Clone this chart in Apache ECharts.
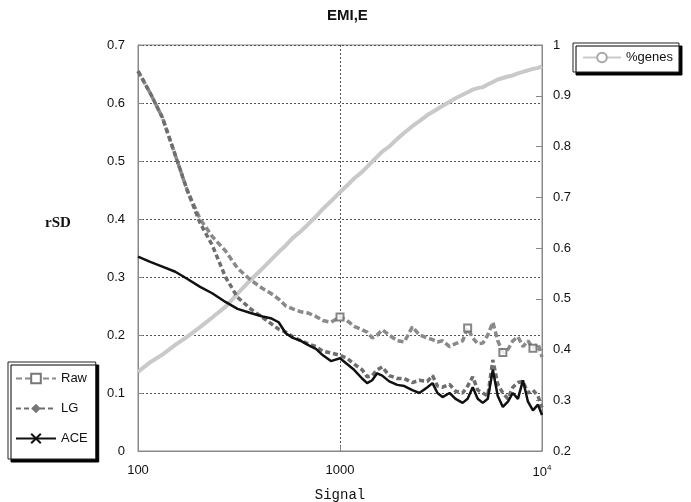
<!DOCTYPE html>
<html>
<head>
<meta charset="utf-8">
<script src="https://cdn.jsdelivr.net/npm/echarts@6/dist/echarts.min.js"></script>
<style>
html,body{margin:0;padding:0;background:#fff;}
#chart{width:691px;height:502px;}
</style>
</head>
<body>
<div id="chart"></div>
<script>
// Shared signal grid (x values)
const signal = [100,115,132,153,175,203,233,271,311,361,414,454,497,539,584,640,693,760,823,902,
  1000,1083,1174,1287,1362,1443,1528,1618,1753,1921,2082,2281,2472,2709,2870,3038,3218,3486,3734,4046,
  4285,4540,4805,5090,5390,5710,6040,6400,6780,7170,7600,8050,8520,9020,9550,10000];

const rawValues = [0.655,0.617,0.575,0.51,0.45,0.40,0.37,0.345,0.315,0.295,0.28,0.272,0.262,0.25,0.245,0.24,0.238,0.232,0.225,0.222,
  0.231,0.225,0.215,0.209,0.205,0.195,0.2,0.209,0.2,0.19,0.188,0.214,0.2,0.195,0.192,0.188,0.19,0.18,0.185,0.19,
  0.212,0.195,0.185,0.186,0.2,0.222,0.19,0.17,0.175,0.19,0.197,0.18,0.19,0.177,0.185,0.162];

const lgValues = [0.655,0.617,0.575,0.51,0.45,0.393,0.355,0.30,0.265,0.245,0.23,0.22,0.21,0.205,0.197,0.19,0.185,0.18,0.172,0.169,
  0.165,0.16,0.15,0.14,0.128,0.13,0.14,0.145,0.13,0.125,0.125,0.118,0.122,0.12,0.13,0.112,0.11,0.115,0.103,0.1,
  0.112,0.128,0.105,0.1,0.095,0.157,0.115,0.1,0.09,0.11,0.118,0.12,0.1,0.105,0.095,0.075];

const aceValues = [0.335,0.326,0.318,0.309,0.297,0.283,0.272,0.257,0.245,0.238,0.232,0.229,0.222,0.203,0.195,0.19,0.183,0.176,0.165,0.155,
  0.16,0.15,0.14,0.125,0.117,0.122,0.134,0.13,0.12,0.114,0.112,0.105,0.1,0.11,0.117,0.1,0.093,0.1,0.09,0.083,
  0.09,0.11,0.09,0.083,0.09,0.14,0.095,0.076,0.085,0.1,0.09,0.122,0.085,0.07,0.08,0.062];

const genesValues = [0.356,0.375,0.39,0.409,0.425,0.444,0.463,0.484,0.51,0.537,0.56,0.576,0.592,0.605,0.62,0.633,0.646,0.662,0.677,0.692,
  0.71,0.723,0.737,0.75,0.76,0.77,0.78,0.79,0.8,0.815,0.827,0.84,0.85,0.862,0.868,0.874,0.88,0.888,0.895,0.902,
  0.907,0.912,0.915,0.917,0.922,0.927,0.932,0.935,0.938,0.94,0.944,0.947,0.95,0.953,0.955,0.958];

const leftTicks = {min:0, max:0.7, interval:0.1};
const rightTicks = {min:0.2, max:1, interval:0.1};
const rawMarkerIdx = [20, 40, 47, 53];

function pairs(vals){ return signal.map((s,i)=>[s, vals[i]]); }

const chart = echarts.init(document.getElementById('chart'), null, {renderer:'canvas'});
const font = 'Arial, "Liberation Sans", sans-serif';

chart.setOption({
  backgroundColor:'#fff',
  animation:false,
  graphic:[{
    type:'text', left:327, top:8,
    style:{text:'EMI,E', fontFamily:font, fontSize:15, fontWeight:'bold', fill:'#111'}
  },{
    type:'text', left:45, top:216,
    style:{text:'rSD', fontFamily:'"Liberation Serif", "DejaVu Serif", serif', fontSize:15, fontWeight:'bold', fill:'#111'}
  }],
  grid:{left:138, right:149, top:45, bottom:51, show:true, borderColor:'#888', borderWidth:1,
        backgroundColor:'transparent', containLabel:false, outerBoundsMode:'none'},
  legend:[{
    data:['Raw','LG','ACE'], orient:'vertical', left:8, top:362,
    padding:[10,8,14,7], itemWidth:40, itemHeight:12, itemGap:17,
    backgroundColor:'#fff', borderColor:'#222', borderWidth:1,
    shadowColor:'#000', shadowBlur:0, shadowOffsetX:3, shadowOffsetY:3,
    textStyle:{fontFamily:font, fontSize:13, color:'#111'}
  },{
    data:['%genes'], left:573, top:43,
    padding:[8,6,8,9], itemWidth:38, itemHeight:12,
    backgroundColor:'#fff', borderColor:'#222', borderWidth:1,
    shadowColor:'#000', shadowBlur:0, shadowOffsetX:3, shadowOffsetY:3,
    textStyle:{fontFamily:font, fontSize:13, color:'#111'}
  }],
  xAxis:{
    type:'log', logBase:10, min:100, max:10000,
    name:'Signal', nameLocation:'middle', nameGap:37,
    nameTextStyle:{fontFamily:'"Liberation Mono", "DejaVu Sans Mono", monospace', fontSize:14, color:'#111'},
    axisLine:{lineStyle:{color:'#888'}},
    axisTick:{inside:true, length:5, lineStyle:{color:'#888'}},
    axisLabel:{
      margin:13, fontFamily:font, fontSize:13, color:'#111',
      formatter:function(v){ return v >= 10000 ? '10{sup|4}' : String(Math.round(v)); },
      rich:{sup:{fontSize:8, verticalAlign:'top', padding:[0,0,8,0], fontFamily:font, color:'#111'}}
    },
    splitLine:{show:true, lineStyle:{color:'#555', type:[2,2], width:1}}
  },
  yAxis:[{
    type:'value', min:leftTicks.min, max:leftTicks.max, interval:leftTicks.interval, position:'left',
    axisLine:{show:true, lineStyle:{color:'#888'}},
    axisTick:{show:true, inside:true, length:5, lineStyle:{color:'#888'}},
    axisLabel:{margin:13, fontFamily:font, fontSize:13, color:'#111', formatter:v=>String(Math.round(v*10)/10)},
    splitLine:{show:true, lineStyle:{color:'#555', type:[2,2], width:1}}
  },{
    type:'value', min:rightTicks.min, max:rightTicks.max, interval:rightTicks.interval, position:'right',
    axisLine:{show:true, lineStyle:{color:'#888'}},
    axisTick:{show:true, inside:true, length:6, lineStyle:{color:'#888'}},
    axisLabel:{margin:11, fontFamily:font, fontSize:13, color:'#111', formatter:v=>String(Math.round(v*10)/10)},
    splitLine:{show:false}
  }],
  series:[{
    name:'%genes', type:'line', yAxisIndex:1, data:pairs(genesValues),
    symbol:'emptyCircle', symbolSize:6, showSymbol:false,
    lineStyle:{color:'#c9c9c9', width:4}, itemStyle:{color:'#a8a8a8', borderWidth:1}, z:1
  },{
    name:'Raw', type:'line', yAxisIndex:0, data:pairs(rawValues),
    symbol:'emptyRect', symbolSize:7, showSymbol:false,
    lineStyle:{color:'#8a8a8a', width:3.5, type:[6,3]}, itemStyle:{color:'#777', borderWidth:1}, z:2
  },{
    name:'Raw', type:'scatter', yAxisIndex:0,
    data: rawMarkerIdx.map(i=>[signal[i], rawValues[i]]),
    symbol:'emptyRect', symbolSize:7, itemStyle:{color:'#666', borderWidth:1}, z:5, silent:true
  },{
    name:'LG', type:'line', yAxisIndex:0, data:pairs(lgValues),
    symbol:'diamond', symbolSize:7, showSymbol:false,
    lineStyle:{color:'#6e6e6e', width:3.5, type:[5,3]}, itemStyle:{color:'#777'}, z:3
  },{
    name:'ACE', type:'line', yAxisIndex:0, data:pairs(aceValues),
    symbol:'path://M0,0L10,10M10,0L0,10', symbolSize:7, showSymbol:false,
    lineStyle:{color:'#111', width:2.5}, itemStyle:{color:'#111', borderColor:'#111', borderWidth:1.5}, z:4
  }]
});
</script>
</body>
</html>
